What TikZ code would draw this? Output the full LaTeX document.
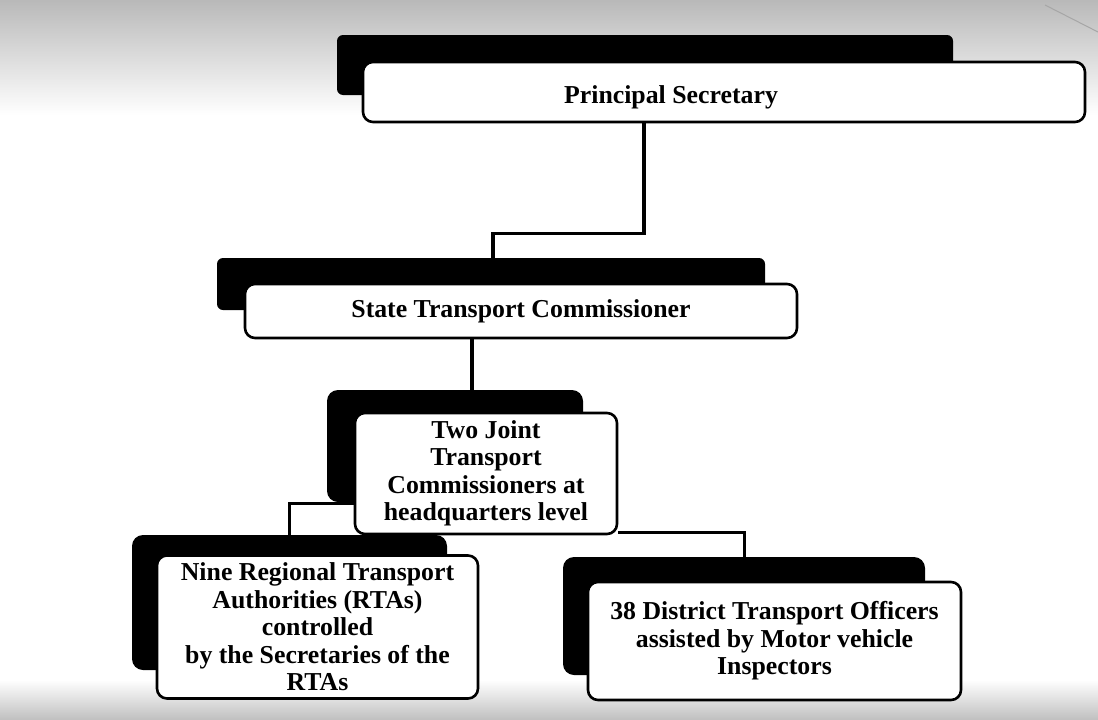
\documentclass[tikz,border=0pt]{standalone}
\usepackage{fontspec}
\setmainfont{Liberation Serif}
\usepackage{tikz}
\usetikzlibrary{backgrounds}

\tikzset{
  lbl/.style={font=\fontsize{25.8}{27.5}\selectfont\bfseries, align=center, inner sep=0pt},
  box/.style={lbl, draw, fill=white, line width=2.6pt, rounded corners=10pt},
  shd/.style={fill=black, rounded corners=6pt},
  conn/.style={line width=3.6pt}
}

\begin{document}
\begin{tikzpicture}[x=1pt, y=-1pt]
\useasboundingbox (0,0) rectangle (1098,720);

\fill[shd] (337,35) rectangle (953,95);
\fill[shd] (217,258) rectangle (765,310);
\fill[shd, rounded corners=11pt] (327,390) rectangle (583,502);
\fill[shd, rounded corners=11pt] (132,535) rectangle (447,670);
\fill[shd, rounded corners=11pt] (563,557) rectangle (925,675);

\node[box, minimum width=722pt, minimum height=60pt] (sec) at (724,92) {};
\node[lbl] (sectxt) at (671,97) {Principal Secretary};
\node[box, minimum width=552pt, minimum height=54pt] (stc) at (521,311) {State Transport Commissioner};
\node[box, minimum width=262pt, minimum height=121pt] (jtc) at (486,473.5) {Two Joint\\Transport\\Commissioners at\\headquarters level};
\node[box, minimum width=321pt, minimum height=143pt] (rta) at (317.5,627) {Nine Regional Transport\\Authorities (RTAs)\\controlled\\by the Secretaries of the\\RTAs};
\node[box, minimum width=373pt, minimum height=118pt] (dto) at (774.5,641) {38 District Transport Officers\\assisted by Motor vehicle\\Inspectors};

\begin{pgfonlayer}{background}
\fill[white] (0,0) rectangle (1098,720);
\shade[top color=gray!55, bottom color=white] (0,0) rectangle (1098,115);
\shade[top color=white, bottom color=gray!50] (0,680) rectangle (1098,720);
\draw[gray!70, line width=1pt] (1045,5) -- (1098,32);

\draw[conn] ([xshift=-80pt]sec.south) -- ++(0,110) -| ([xshift=-28pt]stc.north);
\draw[conn] ([xshift=-49pt]stc.south) -- ([xshift=-49pt]stc.south |- jtc.north);
\draw[conn] ([yshift=-30pt]jtc.west) -| ([xshift=-28pt]rta.north);
\draw[conn] ([yshift=3pt]jtc.south east) -| ([xshift=-30pt]dto.north);
\end{pgfonlayer}

\end{tikzpicture}
\end{document}
